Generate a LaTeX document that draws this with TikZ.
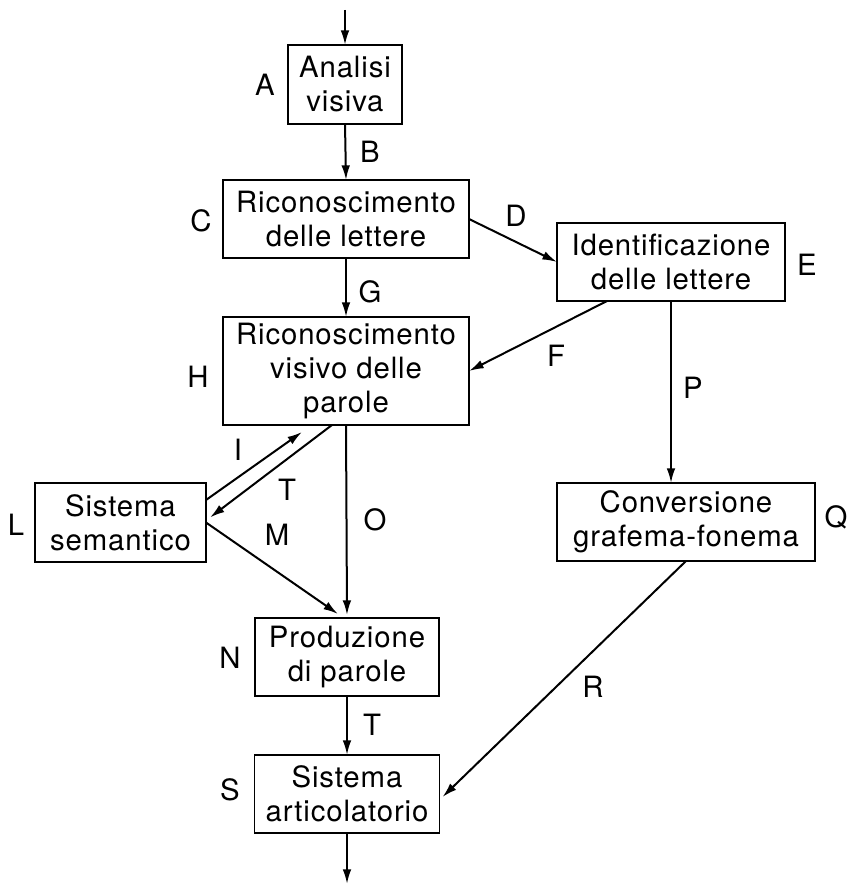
\documentclass[tikz,border=0pt]{standalone}
\usepackage{fontspec}
\setmainfont{TeX Gyre Heros}[LetterSpace=3]
\usetikzlibrary{arrows.meta,calc}
\tikzset{
  box/.style={draw, line width=1.3pt, inner sep=0pt, outer sep=0pt, align=center,
    font=\fontsize{22}{25.5}\selectfont},
  lbl/.style={inner sep=0pt, font=\fontsize{22}{25.5}\selectfont},
  arr/.style={line width=1.5pt, -{Latex[length=11pt,width=6.5pt]}}
}
\begin{document}
\begin{tikzpicture}[x=0.75pt,y=0.75pt,yscale=-1,xscale=1]
\useasboundingbox (0,0) rectangle (849,884);

% Boxes
\node [box, minimum width=85.5pt, minimum height=59.25pt] (A) at (345,84.5) {Analisi\\visiva};
\node [box, minimum width=184.5pt, minimum height=58.5pt] (C) at (346,219) {Riconoscimento\\delle lettere};
\node [box, minimum width=171pt, minimum height=58.5pt] (E) at (671,262) {Identificazione\\delle lettere};
\node [box, minimum width=184.5pt, minimum height=81pt] (H) at (346,371) {Riconoscimento\\visivo delle\\parole};
\node [box, minimum width=128.25pt, minimum height=59.25pt] (L) at (120.5,522.5) {Sistema\\semantico};
\node [box, minimum width=193.5pt, minimum height=58.5pt] (Q) at (686,522) {Conversione\\grafema-fonema};
\node [box, minimum width=138pt, minimum height=58.5pt] (N) at (347,657) {Produzione\\di parole};
\node [box, minimum width=138.75pt, minimum height=58.5pt] (S) at (347,794) {Sistema\\articolatorio};

% free ends
\coordinate (in) at (345,10);
\coordinate (out) at (347,884);

% Connectors
\draw [arr] (in) -- (A.north);
\draw [arr] (A.south) -- (C.north);
\draw [arr] (C.east) -- (E.west);
\draw [arr] (C.south) -- (H.north);
\draw [arr] ($(E.south)+(-64,0)$) -- (H.east);
\draw [arr] (E.south) -- (E.south |- Q.north);
\draw [arr] ($(L.north east)+(0,17)$) -- ($(H.south)+(-44,7)$);
\draw [arr] ($(H.south)+(-14,0)$) -- ($(L.east)+(4,-5)$);
\draw [arr] (L.east) -- ($(N.north)+(-9,-4)$);
\draw [arr] (H.south) -- ($(N.north)+(0,-3)$);
\draw [arr] (Q.south) -- ($(S.east)+(3,3)$);
\draw [arr] (N.south) -- (S.north);
\draw [arr] (S.south) -- (out);

% Text Node
\node [lbl] (lA) at (265,85) {A};
\node [lbl] (lB) at (370,152) {B};
\node [lbl] (lC) at (201,221) {C};
\node [lbl] (lD) at (516,216) {D};
\node [lbl] (lE) at (807,265) {E};
\node [lbl] (lG) at (370,292) {G};
\node [lbl] (lF) at (556,356) {F};
\node [lbl] (lH) at (198,377) {H};
\node [lbl] (lP) at (693,388) {P};
\node [lbl] (lI) at (238,450) {I};
\node [lbl] (lT) at (287,490) {T};
\node [lbl] (lL) at (16,525) {L};
\node [lbl] (lM) at (277,535) {M};
\node [lbl] (lO) at (375,520) {O};
\node [lbl] (lQ) at (836,517) {Q};
\node [lbl] (lN) at (230,658) {N};
\node [lbl] (lR) at (593,687) {R};
\node [lbl] (lT2) at (372,725) {T};
\node [lbl] (lS) at (230,790) {S};

\end{tikzpicture}
\end{document}
